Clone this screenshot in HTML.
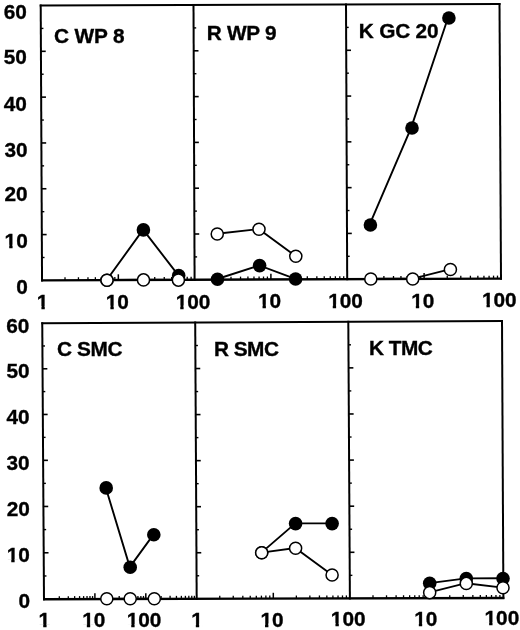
<!DOCTYPE html>
<html><head><meta charset="utf-8"><title>Figure</title>
<style>html,body{margin:0;padding:0;background:#fff;}svg{display:block;}</style>
</head><body>
<svg width="520" height="630" viewBox="0 0 520 630">
<rect width="520" height="630" fill="#fff"/>
<g stroke="#000" stroke-linecap="butt" fill="none">
<line x1="39.7" y1="5.5" x2="500.5" y2="4" stroke-width="1.9"/>
<line x1="41.05" y1="280.4" x2="502" y2="278.6" stroke-width="2.4"/>
<line x1="40.7" y1="4.6" x2="42.05" y2="281.5" stroke-width="2"/>
<line x1="193.5" y1="4.1" x2="194.6" y2="280.9" stroke-width="2"/>
<line x1="346" y1="3.61" x2="347.2" y2="280.3" stroke-width="2"/>
<line x1="499.5" y1="3.1" x2="501" y2="279.7" stroke-width="2"/>
<line x1="41.94" y1="257.49" x2="44.54" y2="257.49" stroke-width="1.4"/>
<line x1="41.82" y1="234.58" x2="46.62" y2="234.58" stroke-width="1.6"/>
<line x1="41.71" y1="211.67" x2="44.31" y2="211.67" stroke-width="1.4"/>
<line x1="41.6" y1="188.76" x2="46.4" y2="188.76" stroke-width="1.6"/>
<line x1="41.49" y1="165.86" x2="44.09" y2="165.86" stroke-width="1.4"/>
<line x1="41.38" y1="142.95" x2="46.17" y2="142.95" stroke-width="1.6"/>
<line x1="41.26" y1="120.04" x2="43.86" y2="120.04" stroke-width="1.4"/>
<line x1="41.15" y1="97.13" x2="45.95" y2="97.13" stroke-width="1.6"/>
<line x1="41.04" y1="74.22" x2="43.64" y2="74.22" stroke-width="1.4"/>
<line x1="40.93" y1="51.32" x2="45.73" y2="51.32" stroke-width="1.6"/>
<line x1="40.81" y1="28.41" x2="43.41" y2="28.41" stroke-width="1.4"/>
<line x1="194.51" y1="256.9" x2="197.11" y2="256.9" stroke-width="1.4"/>
<line x1="194.42" y1="234" x2="199.22" y2="234" stroke-width="1.6"/>
<line x1="194.32" y1="211.1" x2="196.92" y2="211.1" stroke-width="1.4"/>
<line x1="194.23" y1="188.2" x2="199.03" y2="188.2" stroke-width="1.6"/>
<line x1="194.14" y1="165.3" x2="196.74" y2="165.3" stroke-width="1.4"/>
<line x1="194.05" y1="142.4" x2="198.85" y2="142.4" stroke-width="1.6"/>
<line x1="193.96" y1="119.5" x2="196.56" y2="119.5" stroke-width="1.4"/>
<line x1="193.87" y1="96.6" x2="198.67" y2="96.6" stroke-width="1.6"/>
<line x1="193.78" y1="73.7" x2="196.38" y2="73.7" stroke-width="1.4"/>
<line x1="193.68" y1="50.8" x2="198.48" y2="50.8" stroke-width="1.6"/>
<line x1="193.59" y1="27.9" x2="196.19" y2="27.9" stroke-width="1.4"/>
<line x1="347.1" y1="256.31" x2="349.7" y2="256.31" stroke-width="1.4"/>
<line x1="347" y1="233.42" x2="351.8" y2="233.42" stroke-width="1.6"/>
<line x1="346.9" y1="210.53" x2="349.5" y2="210.53" stroke-width="1.4"/>
<line x1="346.8" y1="187.64" x2="351.6" y2="187.64" stroke-width="1.6"/>
<line x1="346.7" y1="164.74" x2="349.3" y2="164.74" stroke-width="1.4"/>
<line x1="346.6" y1="141.85" x2="351.4" y2="141.85" stroke-width="1.6"/>
<line x1="346.5" y1="118.96" x2="349.1" y2="118.96" stroke-width="1.4"/>
<line x1="346.4" y1="96.07" x2="351.2" y2="96.07" stroke-width="1.6"/>
<line x1="346.3" y1="73.18" x2="348.9" y2="73.18" stroke-width="1.4"/>
<line x1="346.2" y1="50.29" x2="351" y2="50.29" stroke-width="1.6"/>
<line x1="346.1" y1="27.4" x2="348.7" y2="27.4" stroke-width="1.4"/>
<line x1="65.01" y1="280.31" x2="65.01" y2="277.31" stroke-width="1.3"/>
<line x1="78.44" y1="280.25" x2="78.44" y2="277.25" stroke-width="1.3"/>
<line x1="87.97" y1="280.22" x2="87.97" y2="277.22" stroke-width="1.3"/>
<line x1="95.36" y1="280.19" x2="95.36" y2="277.19" stroke-width="1.3"/>
<line x1="101.4" y1="280.16" x2="101.4" y2="277.16" stroke-width="1.3"/>
<line x1="106.51" y1="280.14" x2="106.51" y2="277.14" stroke-width="1.3"/>
<line x1="110.93" y1="280.13" x2="110.93" y2="277.13" stroke-width="1.3"/>
<line x1="114.83" y1="280.11" x2="114.83" y2="277.11" stroke-width="1.3"/>
<line x1="118.33" y1="280.1" x2="118.33" y2="274.3" stroke-width="1.5"/>
<line x1="141.29" y1="280.01" x2="141.29" y2="277.01" stroke-width="1.3"/>
<line x1="154.72" y1="279.96" x2="154.72" y2="276.96" stroke-width="1.3"/>
<line x1="164.25" y1="279.92" x2="164.25" y2="276.92" stroke-width="1.3"/>
<line x1="171.64" y1="279.89" x2="171.64" y2="276.89" stroke-width="1.3"/>
<line x1="177.68" y1="279.87" x2="177.68" y2="276.87" stroke-width="1.3"/>
<line x1="182.78" y1="279.85" x2="182.78" y2="276.85" stroke-width="1.3"/>
<line x1="187.21" y1="279.83" x2="187.21" y2="276.83" stroke-width="1.3"/>
<line x1="191.11" y1="279.81" x2="191.11" y2="276.81" stroke-width="1.3"/>
<line x1="217.57" y1="279.71" x2="217.57" y2="276.71" stroke-width="1.3"/>
<line x1="231" y1="279.66" x2="231" y2="276.66" stroke-width="1.3"/>
<line x1="240.54" y1="279.62" x2="240.54" y2="276.62" stroke-width="1.3"/>
<line x1="247.93" y1="279.59" x2="247.93" y2="276.59" stroke-width="1.3"/>
<line x1="253.97" y1="279.57" x2="253.97" y2="276.57" stroke-width="1.3"/>
<line x1="259.08" y1="279.55" x2="259.08" y2="276.55" stroke-width="1.3"/>
<line x1="263.51" y1="279.53" x2="263.51" y2="276.53" stroke-width="1.3"/>
<line x1="267.41" y1="279.51" x2="267.41" y2="276.51" stroke-width="1.3"/>
<line x1="270.9" y1="279.5" x2="270.9" y2="273.7" stroke-width="1.5"/>
<line x1="293.87" y1="279.41" x2="293.87" y2="276.41" stroke-width="1.3"/>
<line x1="307.3" y1="279.36" x2="307.3" y2="276.36" stroke-width="1.3"/>
<line x1="316.84" y1="279.32" x2="316.84" y2="276.32" stroke-width="1.3"/>
<line x1="324.23" y1="279.29" x2="324.23" y2="276.29" stroke-width="1.3"/>
<line x1="330.27" y1="279.27" x2="330.27" y2="276.27" stroke-width="1.3"/>
<line x1="335.38" y1="279.25" x2="335.38" y2="276.25" stroke-width="1.3"/>
<line x1="339.81" y1="279.23" x2="339.81" y2="276.23" stroke-width="1.3"/>
<line x1="343.71" y1="279.22" x2="343.71" y2="276.22" stroke-width="1.3"/>
<line x1="370.35" y1="279.11" x2="370.35" y2="276.11" stroke-width="1.3"/>
<line x1="383.89" y1="279.06" x2="383.89" y2="276.06" stroke-width="1.3"/>
<line x1="393.5" y1="279.02" x2="393.5" y2="276.02" stroke-width="1.3"/>
<line x1="400.95" y1="278.99" x2="400.95" y2="275.99" stroke-width="1.3"/>
<line x1="407.04" y1="278.97" x2="407.04" y2="275.97" stroke-width="1.3"/>
<line x1="412.19" y1="278.95" x2="412.19" y2="275.95" stroke-width="1.3"/>
<line x1="416.65" y1="278.93" x2="416.65" y2="275.93" stroke-width="1.3"/>
<line x1="420.58" y1="278.91" x2="420.58" y2="275.91" stroke-width="1.3"/>
<line x1="424.1" y1="278.9" x2="424.1" y2="273.1" stroke-width="1.5"/>
<line x1="447.25" y1="278.81" x2="447.25" y2="275.81" stroke-width="1.3"/>
<line x1="460.79" y1="278.76" x2="460.79" y2="275.76" stroke-width="1.3"/>
<line x1="470.4" y1="278.72" x2="470.4" y2="275.72" stroke-width="1.3"/>
<line x1="477.85" y1="278.69" x2="477.85" y2="275.69" stroke-width="1.3"/>
<line x1="483.94" y1="278.67" x2="483.94" y2="275.67" stroke-width="1.3"/>
<line x1="489.09" y1="278.65" x2="489.09" y2="275.65" stroke-width="1.3"/>
<line x1="493.55" y1="278.63" x2="493.55" y2="275.63" stroke-width="1.3"/>
<line x1="497.48" y1="278.61" x2="497.48" y2="275.61" stroke-width="1.3"/>
<line x1="41.25" y1="323.2" x2="503" y2="321.04" stroke-width="1.9"/>
<line x1="43" y1="599.19" x2="504.4" y2="597.99" stroke-width="2.4"/>
<line x1="42.25" y1="322.29" x2="44" y2="600.29" stroke-width="2"/>
<line x1="195.2" y1="321.58" x2="196.7" y2="599.89" stroke-width="2"/>
<line x1="348.3" y1="320.86" x2="349.9" y2="599.49" stroke-width="2"/>
<line x1="502" y1="320.15" x2="503.4" y2="599.09" stroke-width="2"/>
<line x1="43.85" y1="575.97" x2="46.45" y2="575.97" stroke-width="1.4"/>
<line x1="43.71" y1="552.77" x2="48.51" y2="552.77" stroke-width="1.6"/>
<line x1="43.56" y1="529.59" x2="46.16" y2="529.59" stroke-width="1.4"/>
<line x1="43.42" y1="506.46" x2="48.22" y2="506.46" stroke-width="1.6"/>
<line x1="43.27" y1="483.37" x2="45.87" y2="483.37" stroke-width="1.4"/>
<line x1="43.12" y1="460.34" x2="47.92" y2="460.34" stroke-width="1.6"/>
<line x1="42.98" y1="437.37" x2="45.58" y2="437.37" stroke-width="1.4"/>
<line x1="42.83" y1="414.46" x2="47.63" y2="414.46" stroke-width="1.6"/>
<line x1="42.69" y1="391.59" x2="45.29" y2="391.59" stroke-width="1.4"/>
<line x1="42.54" y1="368.77" x2="47.34" y2="368.77" stroke-width="1.6"/>
<line x1="42.4" y1="345.97" x2="45" y2="345.97" stroke-width="1.4"/>
<line x1="196.57" y1="575.77" x2="199.17" y2="575.77" stroke-width="1.4"/>
<line x1="196.45" y1="552.74" x2="201.25" y2="552.74" stroke-width="1.6"/>
<line x1="196.32" y1="529.72" x2="198.92" y2="529.72" stroke-width="1.4"/>
<line x1="196.2" y1="506.69" x2="201" y2="506.69" stroke-width="1.6"/>
<line x1="196.07" y1="483.66" x2="198.67" y2="483.66" stroke-width="1.4"/>
<line x1="195.95" y1="460.64" x2="200.75" y2="460.64" stroke-width="1.6"/>
<line x1="195.82" y1="437.61" x2="198.42" y2="437.61" stroke-width="1.4"/>
<line x1="195.7" y1="414.58" x2="200.5" y2="414.58" stroke-width="1.6"/>
<line x1="195.57" y1="391.56" x2="198.17" y2="391.56" stroke-width="1.4"/>
<line x1="195.45" y1="368.53" x2="200.25" y2="368.53" stroke-width="1.6"/>
<line x1="195.32" y1="345.51" x2="197.92" y2="345.51" stroke-width="1.4"/>
<line x1="349.77" y1="575.34" x2="352.37" y2="575.34" stroke-width="1.4"/>
<line x1="349.63" y1="552.29" x2="354.43" y2="552.29" stroke-width="1.6"/>
<line x1="349.5" y1="529.24" x2="352.1" y2="529.24" stroke-width="1.4"/>
<line x1="349.37" y1="506.18" x2="354.17" y2="506.18" stroke-width="1.6"/>
<line x1="349.23" y1="483.13" x2="351.83" y2="483.13" stroke-width="1.4"/>
<line x1="349.1" y1="460.08" x2="353.9" y2="460.08" stroke-width="1.6"/>
<line x1="348.97" y1="437.03" x2="351.57" y2="437.03" stroke-width="1.4"/>
<line x1="348.83" y1="413.97" x2="353.63" y2="413.97" stroke-width="1.6"/>
<line x1="348.7" y1="390.92" x2="351.3" y2="390.92" stroke-width="1.4"/>
<line x1="348.57" y1="367.87" x2="353.37" y2="367.87" stroke-width="1.6"/>
<line x1="348.43" y1="344.82" x2="351.03" y2="344.82" stroke-width="1.4"/>
<line x1="59.32" y1="599.15" x2="59.32" y2="596.15" stroke-width="1.3"/>
<line x1="68.29" y1="599.13" x2="68.29" y2="596.13" stroke-width="1.3"/>
<line x1="74.64" y1="599.11" x2="74.64" y2="596.11" stroke-width="1.3"/>
<line x1="79.58" y1="599.1" x2="79.58" y2="596.1" stroke-width="1.3"/>
<line x1="83.61" y1="599.09" x2="83.61" y2="596.09" stroke-width="1.3"/>
<line x1="87.02" y1="599.08" x2="87.02" y2="596.08" stroke-width="1.3"/>
<line x1="89.97" y1="599.07" x2="89.97" y2="596.07" stroke-width="1.3"/>
<line x1="92.57" y1="599.07" x2="92.57" y2="596.07" stroke-width="1.3"/>
<line x1="94.9" y1="599.06" x2="94.9" y2="593.26" stroke-width="1.5"/>
<line x1="110.22" y1="599.02" x2="110.22" y2="596.02" stroke-width="1.3"/>
<line x1="119.19" y1="599" x2="119.19" y2="596" stroke-width="1.3"/>
<line x1="125.54" y1="598.98" x2="125.54" y2="595.98" stroke-width="1.3"/>
<line x1="130.48" y1="598.97" x2="130.48" y2="595.97" stroke-width="1.3"/>
<line x1="134.51" y1="598.96" x2="134.51" y2="595.96" stroke-width="1.3"/>
<line x1="137.92" y1="598.95" x2="137.92" y2="595.95" stroke-width="1.3"/>
<line x1="140.87" y1="598.94" x2="140.87" y2="595.94" stroke-width="1.3"/>
<line x1="143.47" y1="598.93" x2="143.47" y2="595.93" stroke-width="1.3"/>
<line x1="145.8" y1="598.93" x2="145.8" y2="593.13" stroke-width="1.5"/>
<line x1="161.12" y1="598.89" x2="161.12" y2="595.89" stroke-width="1.3"/>
<line x1="170.09" y1="598.86" x2="170.09" y2="595.86" stroke-width="1.3"/>
<line x1="176.44" y1="598.85" x2="176.44" y2="595.85" stroke-width="1.3"/>
<line x1="181.38" y1="598.83" x2="181.38" y2="595.83" stroke-width="1.3"/>
<line x1="185.41" y1="598.82" x2="185.41" y2="595.82" stroke-width="1.3"/>
<line x1="188.82" y1="598.81" x2="188.82" y2="595.81" stroke-width="1.3"/>
<line x1="191.77" y1="598.81" x2="191.77" y2="595.81" stroke-width="1.3"/>
<line x1="194.37" y1="598.8" x2="194.37" y2="595.8" stroke-width="1.3"/>
<line x1="219.76" y1="598.73" x2="219.76" y2="595.73" stroke-width="1.3"/>
<line x1="233.25" y1="598.7" x2="233.25" y2="595.7" stroke-width="1.3"/>
<line x1="242.82" y1="598.67" x2="242.82" y2="595.67" stroke-width="1.3"/>
<line x1="250.24" y1="598.65" x2="250.24" y2="595.65" stroke-width="1.3"/>
<line x1="256.31" y1="598.64" x2="256.31" y2="595.64" stroke-width="1.3"/>
<line x1="261.43" y1="598.62" x2="261.43" y2="595.62" stroke-width="1.3"/>
<line x1="265.88" y1="598.61" x2="265.88" y2="595.61" stroke-width="1.3"/>
<line x1="269.79" y1="598.6" x2="269.79" y2="595.6" stroke-width="1.3"/>
<line x1="273.3" y1="598.59" x2="273.3" y2="592.79" stroke-width="1.5"/>
<line x1="296.36" y1="598.53" x2="296.36" y2="595.53" stroke-width="1.3"/>
<line x1="309.85" y1="598.5" x2="309.85" y2="595.5" stroke-width="1.3"/>
<line x1="319.42" y1="598.47" x2="319.42" y2="595.47" stroke-width="1.3"/>
<line x1="326.84" y1="598.45" x2="326.84" y2="595.45" stroke-width="1.3"/>
<line x1="332.91" y1="598.44" x2="332.91" y2="595.44" stroke-width="1.3"/>
<line x1="338.03" y1="598.43" x2="338.03" y2="595.43" stroke-width="1.3"/>
<line x1="342.48" y1="598.41" x2="342.48" y2="595.41" stroke-width="1.3"/>
<line x1="346.39" y1="598.4" x2="346.39" y2="595.4" stroke-width="1.3"/>
<line x1="373" y1="598.33" x2="373" y2="595.33" stroke-width="1.3"/>
<line x1="386.52" y1="598.3" x2="386.52" y2="595.3" stroke-width="1.3"/>
<line x1="396.11" y1="598.27" x2="396.11" y2="595.27" stroke-width="1.3"/>
<line x1="403.55" y1="598.25" x2="403.55" y2="595.25" stroke-width="1.3"/>
<line x1="409.62" y1="598.24" x2="409.62" y2="595.24" stroke-width="1.3"/>
<line x1="414.76" y1="598.22" x2="414.76" y2="595.22" stroke-width="1.3"/>
<line x1="419.21" y1="598.21" x2="419.21" y2="595.21" stroke-width="1.3"/>
<line x1="423.14" y1="598.2" x2="423.14" y2="595.2" stroke-width="1.3"/>
<line x1="426.65" y1="598.19" x2="426.65" y2="592.39" stroke-width="1.5"/>
<line x1="449.75" y1="598.13" x2="449.75" y2="595.13" stroke-width="1.3"/>
<line x1="463.27" y1="598.1" x2="463.27" y2="595.1" stroke-width="1.3"/>
<line x1="472.86" y1="598.07" x2="472.86" y2="595.07" stroke-width="1.3"/>
<line x1="480.3" y1="598.05" x2="480.3" y2="595.05" stroke-width="1.3"/>
<line x1="486.37" y1="598.04" x2="486.37" y2="595.04" stroke-width="1.3"/>
<line x1="491.51" y1="598.02" x2="491.51" y2="595.02" stroke-width="1.3"/>
<line x1="495.96" y1="598.01" x2="495.96" y2="595.01" stroke-width="1.3"/>
<line x1="499.89" y1="598" x2="499.89" y2="595" stroke-width="1.3"/>
</g>
<g stroke="#000">
<polyline points="106.7,280 143.1,229.7 178.4,275.3" fill="none" stroke-width="1.9"/>
<polyline points="106.7,280 143.2,279.7 178.1,279.9" fill="none" stroke-width="1.9"/>
<polyline points="217.2,279 259.3,265.4 295.3,278.8" fill="none" stroke-width="1.9"/>
<polyline points="216.95,233.8 258.7,229.1 295.5,256" fill="none" stroke-width="1.9"/>
<polyline points="369.5,224.8 411.1,127.8 448,17.8" fill="none" stroke-width="1.9"/>
<polyline points="369.9,278.8 411.8,278.8 449.5,269.3" fill="none" stroke-width="1.9"/>
<polyline points="105.8,487.7 129.8,567.1 153.4,534.6" fill="none" stroke-width="1.9"/>
<polyline points="106.4,598.6 129.8,598.6 153.9,598.6" fill="none" stroke-width="1.9"/>
<polyline points="261.4,552.6 295.3,523.4 331.8,523.4" fill="none" stroke-width="1.9"/>
<polyline points="261.4,552.6 295.3,548 331.8,574.8" fill="none" stroke-width="1.9"/>
<polyline points="429.4,583.1 466,578.4 502.7,578.3" fill="none" stroke-width="1.9"/>
<polyline points="429.4,592.4 466,583.2 502.7,587.6" fill="none" stroke-width="1.9"/>
<circle cx="107" cy="280.2" r="6.8" fill="#000" stroke="none"/>
<circle cx="143.4" cy="229.9" r="6.8" fill="#000" stroke="none"/>
<circle cx="178.7" cy="275.5" r="6.8" fill="#000" stroke="none"/>
<circle cx="107" cy="280.2" r="6.05" fill="#fff" stroke-width="1.5"/>
<circle cx="143.5" cy="279.9" r="6.05" fill="#fff" stroke-width="1.5"/>
<circle cx="178.4" cy="280.1" r="6.05" fill="#fff" stroke-width="1.5"/>
<circle cx="217.5" cy="279.2" r="6.8" fill="#000" stroke="none"/>
<circle cx="259.6" cy="265.6" r="6.8" fill="#000" stroke="none"/>
<circle cx="295.6" cy="279" r="6.8" fill="#000" stroke="none"/>
<circle cx="217.25" cy="234" r="6.05" fill="#fff" stroke-width="1.5"/>
<circle cx="259" cy="229.3" r="6.05" fill="#fff" stroke-width="1.5"/>
<circle cx="295.8" cy="256.2" r="6.05" fill="#fff" stroke-width="1.5"/>
<circle cx="370.4" cy="225" r="6.8" fill="#000" stroke="none"/>
<circle cx="412" cy="128" r="6.8" fill="#000" stroke="none"/>
<circle cx="448.9" cy="18" r="6.8" fill="#000" stroke="none"/>
<circle cx="370.8" cy="279" r="6.05" fill="#fff" stroke-width="1.5"/>
<circle cx="412.7" cy="279" r="6.05" fill="#fff" stroke-width="1.5"/>
<circle cx="450.4" cy="269.5" r="6.05" fill="#fff" stroke-width="1.5"/>
<circle cx="106.2" cy="487.9" r="6.8" fill="#000" stroke="none"/>
<circle cx="130.2" cy="567.3" r="6.8" fill="#000" stroke="none"/>
<circle cx="153.8" cy="534.8" r="6.8" fill="#000" stroke="none"/>
<circle cx="106.8" cy="598.8" r="6.05" fill="#fff" stroke-width="1.5"/>
<circle cx="130.2" cy="598.8" r="6.05" fill="#fff" stroke-width="1.5"/>
<circle cx="154.3" cy="598.8" r="6.05" fill="#fff" stroke-width="1.5"/>
<circle cx="261.7" cy="552.8" r="6.8" fill="#000" stroke="none"/>
<circle cx="295.6" cy="523.6" r="6.8" fill="#000" stroke="none"/>
<circle cx="332.1" cy="523.6" r="6.8" fill="#000" stroke="none"/>
<circle cx="261.7" cy="552.8" r="6.05" fill="#fff" stroke-width="1.5"/>
<circle cx="295.6" cy="548.2" r="6.05" fill="#fff" stroke-width="1.5"/>
<circle cx="332.1" cy="575" r="6.05" fill="#fff" stroke-width="1.5"/>
<circle cx="429.7" cy="583.3" r="6.8" fill="#000" stroke="none"/>
<circle cx="466.3" cy="578.6" r="6.8" fill="#000" stroke="none"/>
<circle cx="503" cy="578.5" r="6.8" fill="#000" stroke="none"/>
<circle cx="429.7" cy="592.6" r="6.05" fill="#fff" stroke-width="1.5"/>
<circle cx="466.3" cy="583.4" r="6.05" fill="#fff" stroke-width="1.5"/>
<circle cx="503" cy="587.8" r="6.05" fill="#fff" stroke-width="1.5"/>
</g>
<defs><mask id="nofoot" maskUnits="userSpaceOnUse" x="0" y="0" width="520" height="630">
<rect width="520" height="630" fill="#fff"/>
<rect x="4.11" y="244.7" width="5.1" height="4.6" fill="#000"/>
<rect x="12.57" y="244.7" width="3.82" height="4.6" fill="#000"/>
<rect x="6.16" y="559.3" width="5.1" height="4.6" fill="#000"/>
<rect x="14.62" y="559.3" width="3.82" height="4.6" fill="#000"/>
<rect x="36.32" y="306" width="5.1" height="4.6" fill="#000"/>
<rect x="44.77" y="306" width="3.82" height="4.6" fill="#000"/>
<rect x="105.28" y="305.6" width="5.1" height="4.6" fill="#000"/>
<rect x="113.74" y="305.6" width="3.82" height="4.6" fill="#000"/>
<rect x="175.15" y="305.4" width="5.1" height="4.6" fill="#000"/>
<rect x="183.61" y="305.4" width="3.82" height="4.6" fill="#000"/>
<rect x="257.43" y="304.5" width="5.1" height="4.6" fill="#000"/>
<rect x="265.89" y="304.5" width="3.82" height="4.6" fill="#000"/>
<rect x="327.65" y="304.4" width="5.1" height="4.6" fill="#000"/>
<rect x="336.11" y="304.4" width="3.82" height="4.6" fill="#000"/>
<rect x="410.73" y="304.6" width="5.1" height="4.6" fill="#000"/>
<rect x="419.19" y="304.6" width="3.82" height="4.6" fill="#000"/>
<rect x="481.4" y="303.9" width="5.1" height="4.6" fill="#000"/>
<rect x="489.86" y="303.9" width="3.82" height="4.6" fill="#000"/>
<rect x="38.12" y="624.3" width="5.1" height="4.6" fill="#000"/>
<rect x="46.57" y="624.3" width="3.82" height="4.6" fill="#000"/>
<rect x="81.73" y="624.3" width="5.1" height="4.6" fill="#000"/>
<rect x="90.19" y="624.3" width="3.82" height="4.6" fill="#000"/>
<rect x="126.15" y="624.1" width="5.1" height="4.6" fill="#000"/>
<rect x="134.61" y="624.1" width="3.82" height="4.6" fill="#000"/>
<rect x="190.72" y="623.9" width="5.1" height="4.6" fill="#000"/>
<rect x="199.17" y="623.9" width="3.82" height="4.6" fill="#000"/>
<rect x="259.93" y="623.5" width="5.1" height="4.6" fill="#000"/>
<rect x="268.39" y="623.5" width="3.82" height="4.6" fill="#000"/>
<rect x="330.35" y="622.9" width="5.1" height="4.6" fill="#000"/>
<rect x="338.81" y="622.9" width="3.82" height="4.6" fill="#000"/>
<rect x="413.73" y="622.9" width="5.1" height="4.6" fill="#000"/>
<rect x="422.19" y="622.9" width="3.82" height="4.6" fill="#000"/>
<rect x="484.05" y="622.1" width="5.1" height="4.6" fill="#000"/>
<rect x="492.51" y="622.1" width="3.82" height="4.6" fill="#000"/>
</mask></defs>
<g mask="url(#nofoot)" stroke="#000" stroke-width="0.35" font-family="'Liberation Sans', Arial, Helvetica, sans-serif" font-weight="bold" font-size="20.8" fill="#000">
<text x="26.9" y="18.5" text-anchor="end">60</text>
<text x="26.8" y="64.1" text-anchor="end">50</text>
<text x="26.8" y="110.8" text-anchor="end">40</text>
<text x="27.6" y="156.5" text-anchor="end">30</text>
<text x="27.7" y="201.4" text-anchor="end">20</text>
<text x="27.75" y="247.8" text-anchor="end">10</text>
<text x="27.8" y="293.7" text-anchor="end">0</text>
<text x="29.4" y="332.7" text-anchor="end">60</text>
<text x="29.6" y="378" text-anchor="end">50</text>
<text x="29.7" y="424.4" text-anchor="end">40</text>
<text x="29.7" y="470.3" text-anchor="end">30</text>
<text x="29.9" y="516" text-anchor="end">20</text>
<text x="29.8" y="562.4" text-anchor="end">10</text>
<text x="30" y="608" text-anchor="end">0</text>
<text x="42.6" y="309.1" text-anchor="middle">1</text>
<text x="117.35" y="308.7" text-anchor="middle">10</text>
<text x="193" y="308.5" text-anchor="middle">100</text>
<text x="269.5" y="307.6" text-anchor="middle">10</text>
<text x="345.5" y="307.5" text-anchor="middle">100</text>
<text x="422.8" y="307.7" text-anchor="middle">10</text>
<text x="499.25" y="307" text-anchor="middle">100</text>
<text x="44.4" y="627.4" text-anchor="middle">1</text>
<text x="93.8" y="627.4" text-anchor="middle">10</text>
<text x="144" y="627.2" text-anchor="middle">100</text>
<text x="197" y="627" text-anchor="middle">1</text>
<text x="272" y="626.6" text-anchor="middle">10</text>
<text x="348.2" y="626" text-anchor="middle">100</text>
<text x="425.8" y="626" text-anchor="middle">10</text>
<text x="501.9" y="625.2" text-anchor="middle">100</text>
<text x="54.1" y="42.9" text-anchor="start" letter-spacing="-0.16">C WP 8</text>
<text x="206.7" y="40.2" text-anchor="start" letter-spacing="-0.3">R WP 9</text>
<text x="358.7" y="37.6" text-anchor="start" letter-spacing="-0.17">K GC 20</text>
<text x="56.9" y="356.3" text-anchor="start" letter-spacing="-0.35">C SMC</text>
<text x="213.9" y="356" text-anchor="start" letter-spacing="-0.5">R SMC</text>
<text x="368.9" y="355.1" text-anchor="start" letter-spacing="-0.5">K TMC</text>
</g>
</svg>
</body></html>
